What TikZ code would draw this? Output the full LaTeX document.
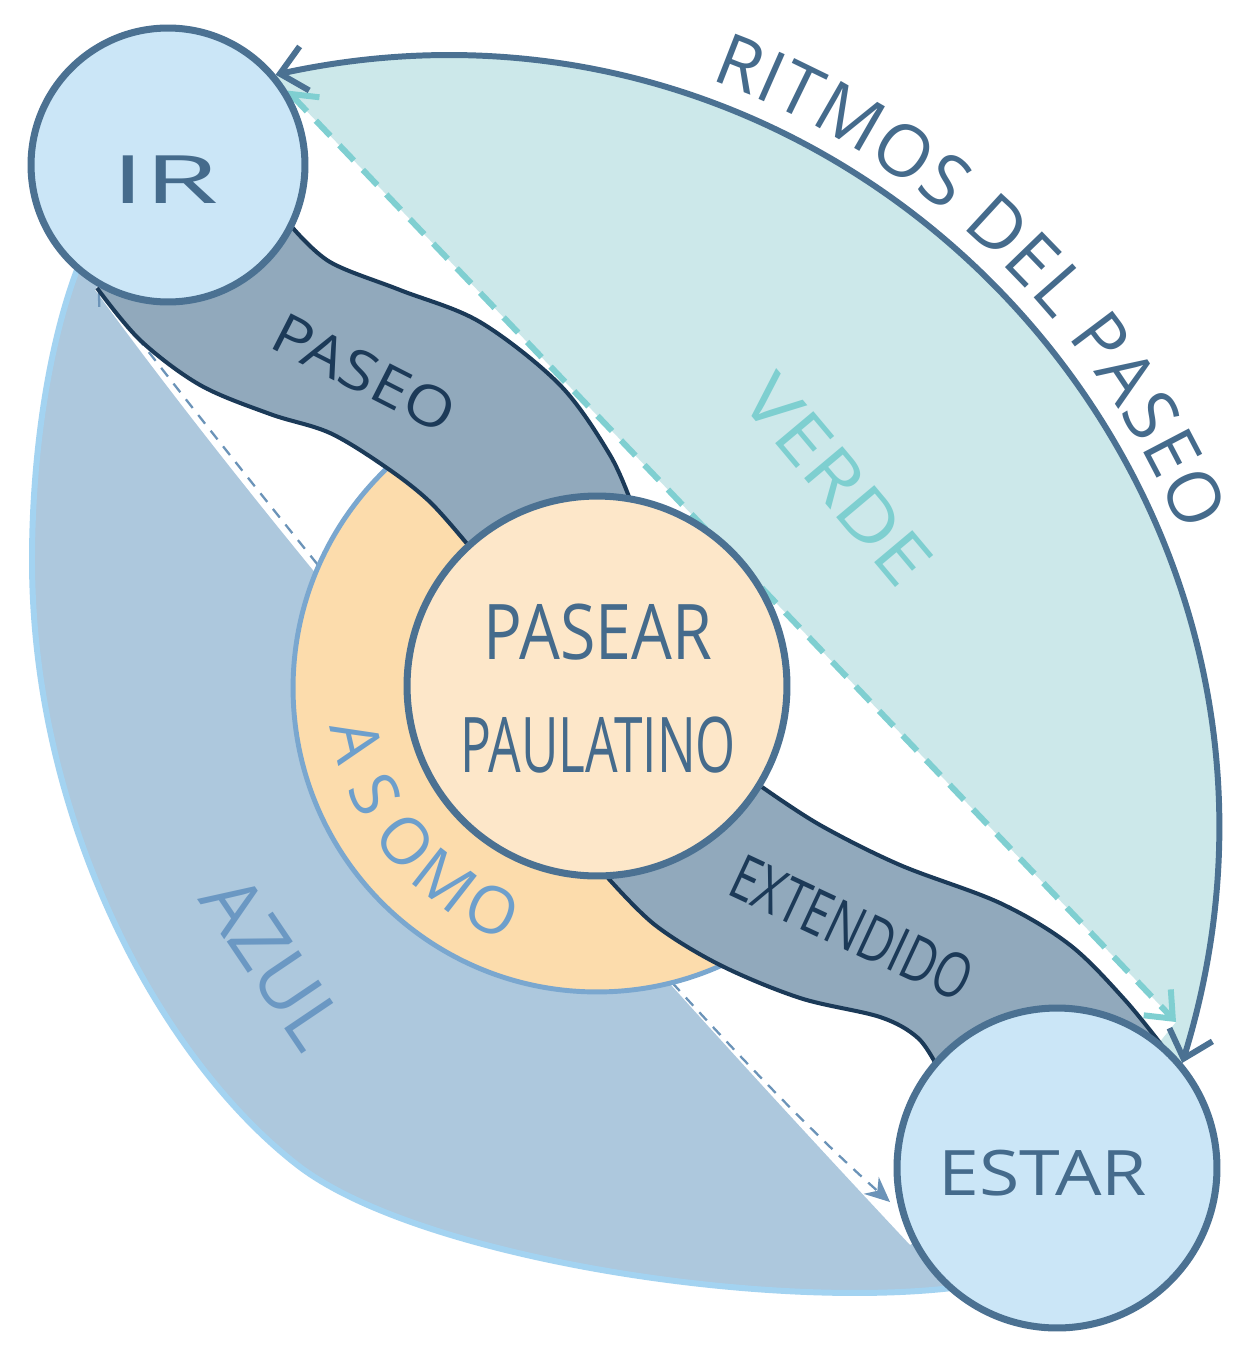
\documentclass[tikz,border=0pt]{standalone}
\usepackage{fontspec}
\setmainfont{Open Sans}
\usetikzlibrary{arrows.meta,decorations.text,calc}
\pgfdeclarelayer{bg}
\pgfsetlayers{bg,main}
\definecolor{circfill}{HTML}{CBE6F7}
\definecolor{circline}{HTML}{4B7192}
\definecolor{centfill}{HTML}{FDE7C9}
\definecolor{ringfill}{HTML}{FCDCAC}
\definecolor{ringline}{HTML}{7AA7CF}
\definecolor{bandfill}{HTML}{91A9BC}
\definecolor{bandline}{HTML}{1B3A58}
\definecolor{greenfill}{HTML}{CCE8EA}
\definecolor{greendash}{HTML}{7FCFD1}
\definecolor{bluefill}{HTML}{ADC8DD}
\definecolor{blueline}{HTML}{A3D3F1}
\definecolor{graydash}{HTML}{6B93B8}
\definecolor{txtmain}{HTML}{456B8C}
\definecolor{txtnavy}{HTML}{1C3A58}
\definecolor{txtverde}{HTML}{7ECFD0}
\definecolor{txtazul}{HTML}{6B98C3}
\definecolor{txtasomo}{HTML}{6D9FCC}
\newcommand{\hw}[3]{\scalebox{#1}[1]{\fontsize{#2}{#2}\selectfont #3}}
\newcommand{\ritfont}{\fontsize{41pt}{41pt}\selectfont}
\newcommand{\bluearc}{(85,250) .. controls (50,330) and (32,450) .. (32,560) .. controls (32,820) and (160,1060) .. (300,1167) .. controls (420,1257) and (760,1310) .. (952,1288)}
\tikzset{
  endcircle/.style={circle, draw=circline, fill=circfill, line width=4pt, inner sep=0pt},
  centcircle/.style={circle, draw=circline, fill=centfill, line width=4pt, inner sep=0pt},
  ringcircle/.style={circle, draw=ringline, fill=ringfill, line width=2.8pt, inner sep=0pt},
  lbl/.style={inner sep=0pt},
  asoletter/.style={inner sep=0pt, text=txtasomo, font=\fontsize{37pt}{37pt}\selectfont},
  bandedge/.style={draw=bandline, line width=2.3pt},
  ritmo/.style={draw=circline, line width=3.4pt, {Straight Barb[length=0.5cm,width=0.9cm]}-{Straight Barb[length=0.5cm,width=0.9cm]}},
  greenln/.style={draw=greendash, line width=3.4pt, dash pattern=on 0.42cm off 0.26cm, {Straight Barb[length=0.45cm,width=0.75cm]}-{Straight Barb[length=0.45cm,width=0.75cm]}},
  grayln/.style={draw=graydash, line width=1.3pt, dash pattern=on 0.22cm off 0.18cm, {Straight Barb[length=0.3cm,width=0.45cm]}-{Stealth[length=0.5cm,width=0.45cm]}}
}
\begin{document}
\begin{tikzpicture}[x=0.02cm, y=-0.02cm, line join=round, line cap=round]
\useasboundingbox (0,0) rectangle (1234,1349);
% main nodes
\node[endcircle, minimum size=5.48cm] (ir) at (168,165) {};
\node[endcircle, minimum size=6.4cm] (estar) at (1057,1168) {};
\node[centcircle, minimum size=7.6cm] (pasear) at (597,686) {};
\coordinate (gtip) at (1176,1022);
\coordinate (btip) at (890,1202);

\begin{pgfonlayer}{bg}
\fill[white] (0,0) rectangle (1234,1349);
% blue region
\fill[bluefill] (ir.center) -- \bluearc -- (estar.center) -- (910,1245) .. controls (557,868) and (285,550) .. (95,290) -- cycle;
\draw[blueline, line width=3.4pt] \bluearc;
% green region
\fill[greenfill] (ir.center) -- (ir.40) .. controls (858,-52) and (1358,493) .. (estar.40) -- (estar.center) -- (gtip) -- (ir.32) -- cycle;
% gray dashed connector
\draw[grayln] (ir.240) .. controls (457,749) and (723,1054) .. (btip);
% orange ring
\begin{scope}
\clip (-100,-138) -- (1300,1445) -- (-100,1445) -- cycle;
\node[ringcircle, minimum size=12.16cm] (ring) at (597,688) {};
\end{scope}
% green dashed connector
\draw[greenln] (ir.32) -- (gtip);
% PASEO band
\fill[bandfill] (ir.center) -- plot[smooth, tension=0.55] coordinates {(292,227) (330,262) (400,290) (480,322) (560,385) (610,455) (632,505)} -- (pasear.center) -- plot[smooth, tension=0.55] coordinates {(468,545) (430,502) (387,468) (330,433) (270,414) (200,385) (140,340) (97,288)} -- cycle;
\draw[bandedge] plot[smooth, tension=0.55] coordinates {(292,227) (330,262) (400,290) (480,322) (560,385) (610,455) (632,505)};
\draw[bandedge] plot[smooth, tension=0.55] coordinates {(468,545) (430,502) (387,468) (330,433) (270,414) (200,385) (140,340) (97,288)};
% EXTENDIDO band
\fill[bandfill] (pasear.center) -- plot[smooth, tension=0.55] coordinates {(762,787) (820,825) (900,865) (1000,903) (1070,945) (1125,1000) (1167,1052)} -- (estar.center) -- plot[smooth, tension=0.55] coordinates {(938,1068) (918,1038) (880,1017) (800,998) (720,965) (655,925) (608,878)} -- cycle;
\draw[bandedge] plot[smooth, tension=0.55] coordinates {(762,787) (820,825) (900,865) (1000,903) (1070,945) (1125,1000) (1167,1052)};
\draw[bandedge] plot[smooth, tension=0.55] coordinates {(938,1068) (918,1038) (880,1017) (800,998) (720,965) (655,925) (608,878)};
\end{pgfonlayer}

% outer arc connector
\draw[ritmo] (ir.40) .. controls (858,-52) and (1358,493) .. (estar.40);
\path[decorate, decoration={text along path, text={|\color{txtmain}\ritfont|RITMOS DEL PASEO}, text align={left indent=8.66cm}, raise=0.44cm}] (ir.40) .. controls (858,-52) and (1358,493) .. (estar.40);
% ASOMO letters along the ring
\node[asoletter, rotate=-77] (asoA) at ({597+247*cos(193)}, {686-247*sin(193)}) {A};
\node[asoletter, rotate=-64] (asoS) at ({597+247*cos(206)}, {686-247*sin(206)}) {S};
\node[asoletter, rotate=-51] (asoO) at ({597+247*cos(219)}, {686-247*sin(219)}) {O};
\node[asoletter, rotate=-38] (asoM) at ({597+247*cos(232)}, {686-247*sin(232)}) {M};
\node[asoletter, rotate=-25] (asoOb) at ({597+247*cos(245)}, {686-247*sin(245)}) {O};

% labels
\node[lbl, text=txtmain] (irlbl) at (165,180) {\hw{1.8}{38pt}{IR}};
\node[lbl, text=txtmain] (estarlbl) at (1043,1173) {\hw{1.17}{35.7pt}{ESTAR}};
\node[lbl, text=txtmain] (pas1) at (598,632) {\hw{0.84}{43.7pt}{PASEAR}};
\node[lbl, text=txtmain] (pas2) at (598,745) {\hw{0.67}{43.7pt}{PAULATINO}};
\node[lbl, text=txtnavy, rotate=-27] (paseolbl) at (364,373) {\hw{1.15}{31.8pt}{PASEO}};
\node[lbl, text=txtnavy, rotate=-25] (extlbl) at (852,928) {\hw{0.75}{35.7pt}{EXTENDIDO}};
\node[lbl, text=txtverde, rotate=-50] (verdelbl) at (838,480) {\hw{1.17}{39.7pt}{VERDE}};
\node[lbl, text=txtazul, rotate=-56] (azullbl) at (273,962) {\hw{1.0}{43.7pt}{AZUL}};
\end{tikzpicture}
\end{document}
